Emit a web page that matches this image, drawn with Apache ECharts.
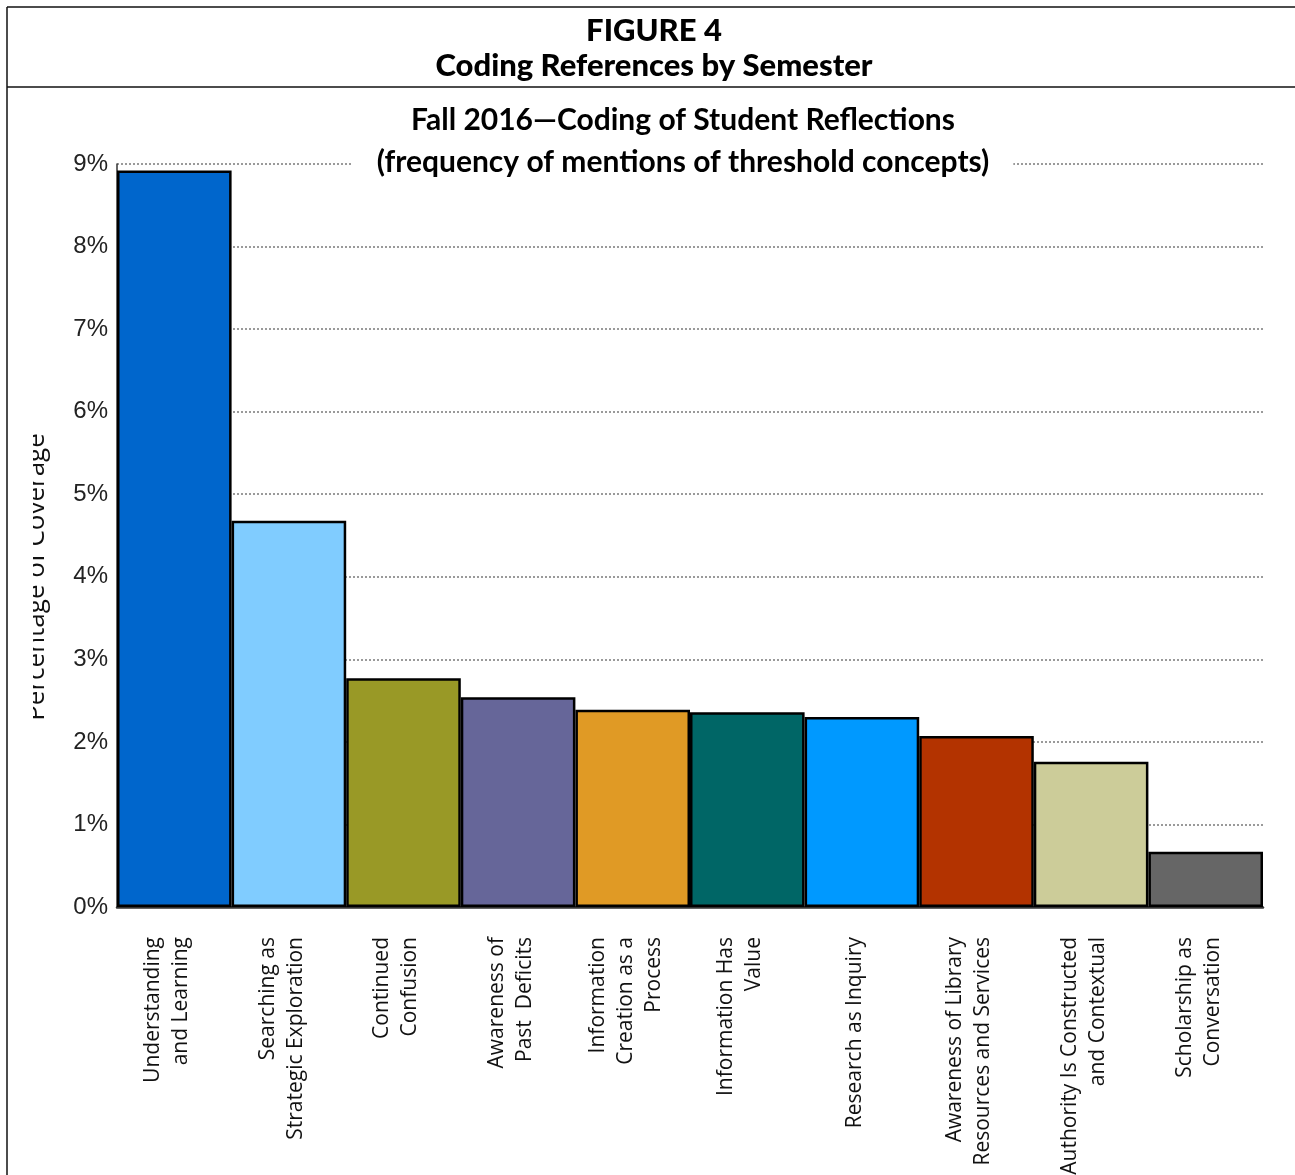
<!DOCTYPE html>
<html lang="en">
<head>
  <meta charset="UTF-8">
  <title>Figure 4</title>
  <style>
      html, body {
          margin: 0;
          padding: 0;
          background: #fff;
      }
      #chart {
          width: 1295px;
          height: 1175px;
      }
  </style>
</head>
<body>
<div id="chart"></div>

<script src="https://cdn.jsdelivr.net/npm/echarts@6/dist/echarts.min.js"></script>
<script>

  // data
  const categories = [
    'Understanding\nand Learning',
    'Searching as\nStrategic Exploration',
    'Continued\nConfusion',
    'Awareness of\nPast  Deficits',
    'Information\nCreation as a\nProcess',
    'Information Has\nValue',
    'Research as Inquiry',
    'Awareness of Library\nResources and Services',
    'Authority Is Constructed\nand Contextual',
    'Scholarship as\nConversation'
  ];
  const coverage = [8.92, 4.68, 2.77, 2.54, 2.39, 2.36, 2.30, 2.07, 1.76, 0.67];
  const barColors = ['#0066cc', '#80ccff', '#999926', '#666699', '#e09a25',
                     '#006666', '#0099ff', '#b33300', '#cccc99', '#666666'];
  const yTicks = [0, 1, 2, 3, 4, 5, 6, 7, 8, 9];

  const titleFont = 'Lato, "Open Sans", sans-serif';

  const chart = echarts.init(document.getElementById('chart'));

  const option = {
    animation: false,
    backgroundColor: '#fff',
    grid: {
      left: 117,
      right: 32,
      top: 164,
      bottom: 268,
      outerBoundsMode: 'none'
    },
    xAxis: {
      type: 'category',
      data: categories,
      axisLine: { lineStyle: { color: '#333', width: 2.5 } },
      axisTick: { show: false },
      axisLabel: {
        rotate: 90,
        margin: 30,
        interval: 0,
        color: '#111',
        fontFamily: '"Open Sans", sans-serif',
        fontSize: 21,
        lineHeight: 28,
        // an empty short line at the end nudges the labels a little left, as in the original
        formatter: function (v) { return v + '\n{s| }'; },
        rich: {
          s: { fontSize: 8, lineHeight: 14 }
        }
      }
    },
    yAxis: {
      type: 'value',
      min: yTicks[0],
      max: yTicks[yTicks.length - 1],
      interval: 1,
      axisLine: { show: true, lineStyle: { color: '#333', width: 1.5 } },
      axisTick: { show: false },
      axisLabel: {
        formatter: '{value}%',
        margin: 9,
        color: '#222',
        fontFamily: '"Liberation Sans", Arial, sans-serif',
        fontSize: 24
      },
      splitLine: {
        lineStyle: { color: '#9a9a9a', width: 2, type: 'dotted' }
      }
    },
    series: [
      {
        type: 'bar',
        barCategoryGap: '0%',
        data: coverage.map(function (v, i) {
          return { value: v, itemStyle: { color: barColors[i] } };
        }),
        itemStyle: {
          borderColor: '#000',
          borderWidth: 2.5
        }
      }
    ],
    graphic: [
      // frame
      { type: 'line', z: 100, shape: { x1: 7, y1: 7, x2: 1295, y2: 7 }, style: { stroke: '#111', lineWidth: 1.5 } },
      { type: 'line', z: 100, shape: { x1: 7, y1: 7, x2: 7, y2: 1175 }, style: { stroke: '#111', lineWidth: 1.5 } },
      { type: 'line', z: 100, shape: { x1: 7, y1: 87, x2: 1295, y2: 87 }, style: { stroke: '#111', lineWidth: 1.5 } },
      // header
      {
        type: 'text', z: 100, x: 654, y: 31,
        style: {
          text: 'FIGURE 4', align: 'center', verticalAlign: 'middle',
          font: '900 31px ' + titleFont, fill: '#000'
        }
      },
      {
        type: 'text', z: 100, x: 654, y: 66,
        style: {
          text: 'Coding References by Semester', align: 'center', verticalAlign: 'middle',
          font: '900 31px ' + titleFont, fill: '#000'
        }
      },
      // chart title, white box over the top gridline
      {
        type: 'text', z: 100, x: 683, y: 141,
        style: {
          text: 'Fall 2016\u2014Coding of Student Reflections\n(frequency of mentions of threshold concepts)',
          align: 'center', verticalAlign: 'middle',
          font: 'bold 30px ' + titleFont, lineHeight: 42, fill: '#000',
          backgroundColor: '#fff', padding: [0, 24]
        }
      },
      // y axis name, cut off at the left edge
      {
        type: 'text', z: 100, x: 37, y: 577, rotation: Math.PI / 2,
        style: {
          text: 'Percentage of Coverage', align: 'center', verticalAlign: 'middle',
          font: '26px "Open Sans", sans-serif', fill: '#111'
        }
      },
      { type: 'rect', z: 101, shape: { x: 8, y: 400, width: 25, height: 360 }, style: { fill: '#fff' } }
    ]
  };

  chart.setOption(option);

</script>
</body>
</html>
